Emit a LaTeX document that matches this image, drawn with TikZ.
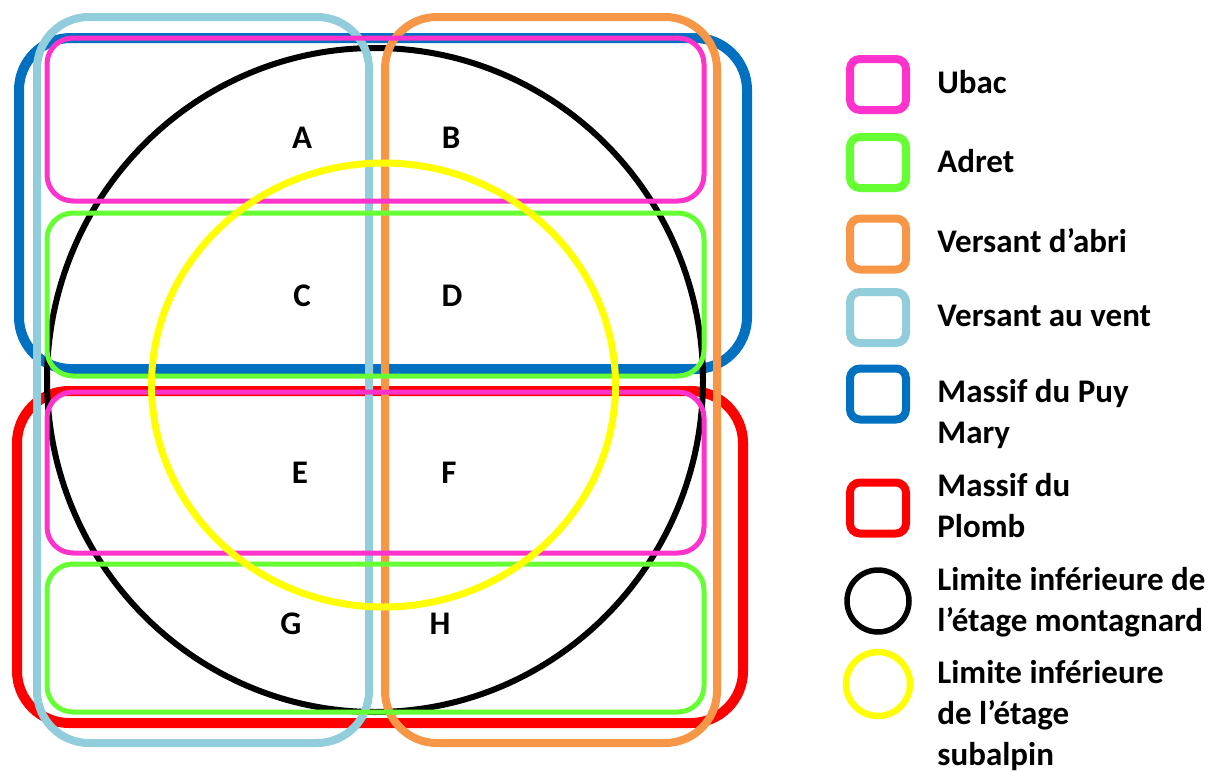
\documentclass[tikz,border=0pt]{standalone}
\usepackage{fontspec}
\setmainfont{Carlito}
\usetikzlibrary{positioning}
\definecolor{UbacPink}{HTML}{FF33CC}
\definecolor{AdretGreen}{HTML}{66FF33}
\definecolor{AbriOrange}{HTML}{F79646}
\definecolor{VentBlue}{HTML}{92CDDC}
\definecolor{PuyBlue}{HTML}{0070C0}
\definecolor{PlombRed}{HTML}{FF0000}
\definecolor{SubYellow}{HTML}{FFFF00}

\begin{document}
\begin{tikzpicture}[x=0.5pt,y=-0.5pt]
  \tikzstyle{massif}=[line width=5pt,rounded corners=26pt]
  \tikzstyle{versant}=[line width=4pt,rounded corners=26pt]
  \tikzstyle{expo}=[line width=2.5pt,rounded corners=13pt]
  \tikzstyle{zonelbl}=[font=\bfseries\fontsize{16.5}{20.5}\selectfont,inner sep=0pt]
  \tikzstyle{keybox}=[draw,line width=4pt,rounded corners=5pt,minimum width=28pt,
    minimum height=25.5pt,inner sep=0pt]
  \tikzstyle{keyring}=[draw,circle,minimum size=31pt,inner sep=0pt]
  \tikzstyle{keytext}=[anchor=base west,align=left,inner sep=0pt,
    font=\bfseries\fontsize{16.5}{20.5}\selectfont]
  \useasboundingbox (0,0) rectangle (1211,771);
  % massifs
  \draw[massif,PuyBlue] (19,38) rectangle (747,369);
  \draw[massif,PlombRed] (17,391) rectangle (743,723);
  % limite montagnard
  \draw[line width=3pt,black] (375,380) ellipse [x radius=328,y radius=332];
  % versants
  \draw[versant,VentBlue] (37,17) rectangle (369,743);
  \draw[versant,AbriOrange] (385,17) rectangle (717,743);
  % ubac / adret
  \draw[expo,UbacPink] (47,38) rectangle (704,201);
  \draw[expo,AdretGreen] (47,213) rectangle (704,376);
  \draw[expo,UbacPink] (47,392) rectangle (704,553);
  \draw[expo,AdretGreen] (47,564) rectangle (704,712);
  % limite subalpin
  \draw[line width=3.5pt,SubYellow] (383.5,385) ellipse [x radius=232,y radius=222];
  % zones
  \node[zonelbl] (zA) at (302,138) {A};
  \node[zonelbl] (zB) at (451,138) {B};
  \node[zonelbl] (zC) at (302,296) {C};
  \node[zonelbl] (zD) at (452,296) {D};
  \node[zonelbl] (zE) at (300,473) {E};
  \node[zonelbl] (zF) at (449,473) {F};
  \node[zonelbl] (zG) at (291,624) {G};
  \node[zonelbl] (zH) at (440,624) {H};
  % legende
  \node[keybox,UbacPink] (kubac) at (878,84.5) {};
  \node[keybox,AdretGreen] (kadret) at (878,162.5) {};
  \node[keybox,AbriOrange] (kabri) at (878,244) {};
  \node[keybox,VentBlue] (kvent) at (878,317.5) {};
  \node[keybox,PuyBlue] (kpuy) at (878,394) {};
  \node[keybox,PlombRed] (kplomb) at (878,508) {};
  \node[keyring,line width=2.75pt,black] (kmont) at (878,601) {};
  \node[keyring,line width=3.25pt,SubYellow,minimum size=32pt] (ksub) at (878,684) {};
  % base = derniere ligne
  \node[keytext] (tubac) at (937,93) {Ubac};
  \node[keytext] (tadret) at (937,172) {Adret};
  \node[keytext] (tabri) at (937,252) {Versant d’abri};
  \node[keytext] (tvent) at (937,326) {Versant au vent};
  \node[keytext] (tpuy) at (937,443) {Massif du Puy\\Mary};
  \node[keytext] (tplomb) at (937,537) {Massif du\\Plomb};
  \node[keytext] (tmont) at (937,631) {Limite inférieure de\\l’étage montagnard};
  \node[keytext] (tsub) at (937,765) {Limite inférieure\\de l’étage\\subalpin};
\end{tikzpicture}
\end{document}
